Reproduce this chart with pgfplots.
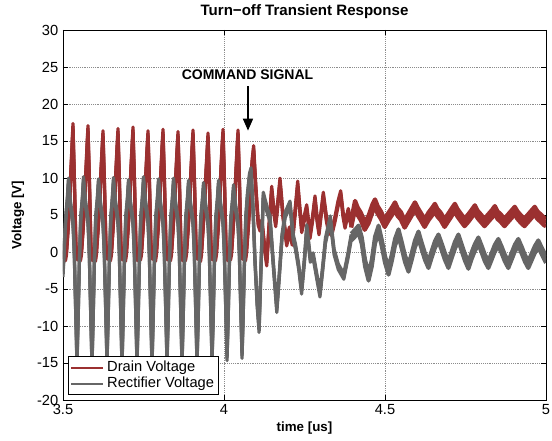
\documentclass[border=0pt]{standalone}
\usepackage{fontspec}
\setmainfont{Liberation Sans}
\usepackage{pgfplots}
\pgfplotsset{compat=1.18}
\usetikzlibrary{arrows.meta}

\definecolor{drainred}{RGB}{155,48,48}
\definecolor{rectgray}{RGB}{102,102,102}

% noisy scope traces: draw the trace three times, shifted up/down, to get a vertical noise band
\pgfplotsset{
  noiseband/.style={line width=2.4pt, line join=round,
    preaction={draw, transform canvas={yshift=#1}},
    preaction={draw, transform canvas={yshift=-#1}}},
  noiseband/.default=2.1pt,
}

\begin{document}
\begin{tikzpicture}
\begin{axis}[
  scale only axis,
  width=362.25pt, height=277.5pt,
  xmin=3.5, xmax=5, ymin=-20, ymax=30,
  xtick={3.5,4,4.5,5},
  ytick={-20,-15,...,30},
  grid=major,
  grid style={densely dotted, black!45, line width=0.4pt},
  tick align=inside,
  major tick length=3.75pt,
  tick style={black, line width=0.5pt},
  axis line style={line width=0.6pt},
  /pgf/number format/assume math mode=true,
  ticklabel style={font=\fontsize{11}{13}\selectfont},
  title={Turn−off Transient Response},
  every axis title/.style={at={(axis description cs:0.5,1.0486)}, anchor=center,
    font=\fontsize{11.3}{13}\selectfont\bfseries},
  xlabel={time [us]},
  ylabel={Voltage [V]},
  label style={font=\fontsize{10}{12}\selectfont\bfseries},
  xlabel style={at={(axis description cs:0.5,-0.0757)}, anchor=center},
  ylabel style={at={(axis description cs:-0.093,0.5)}, anchor=center},
  legend style={at={(axis description cs:0.0104,0.0135)}, anchor=south west,
    font=\fontsize{11}{13}\selectfont, draw=black, line width=0.6pt,
    inner sep=1.5pt, row sep=-1.5pt},
  legend cell align=left,
  legend image code/.code={\draw[#1] (4.5pt,0pt) -- (28.5pt,0pt);},
]

\addlegendimage{drainred, line width=1.6pt}
\addlegendentry{Drain Voltage}
\addlegendimage{rectgray, line width=1.6pt}
\addlegendentry{Rectifier Voltage}

% Drain voltage: oscillating part
\addplot[forget plot, drainred, noiseband] coordinates {
(3.5000,-0.5) (3.5030,-0.3) (3.5077,-0.8) (3.5108,0) (3.5155,3) (3.5201,6.5) (3.5248,11) (3.5279,14)
(3.5310,17.0) (3.5357,9) (3.5403,0.5) (3.5450,-0.7) (3.5496,-0.3) (3.5543,-0.8) (3.5574,0) (3.5621,3) (3.5667,6.5) (3.5714,11) (3.5745,14)
(3.5776,16.7) (3.5823,9) (3.5869,0.4) (3.5916,-0.8) (3.5962,-0.2) (3.6009,-0.9) (3.6040,0.1) (3.6087,3) (3.6133,6.3) (3.6180,10.8) (3.6211,13.5)
(3.6242,16.0) (3.6289,8.8) (3.6335,0.6) (3.6382,-0.6) (3.6428,-0.4) (3.6475,-0.8) (3.6506,0) (3.6553,3.2) (3.6599,6.6) (3.6646,11) (3.6677,13.8)
(3.6708,16.3) (3.6755,9) (3.6801,0.5) (3.6848,-0.7) (3.6894,-0.2) (3.6941,-0.9) (3.6972,0.1) (3.7019,3) (3.7065,6.5) (3.7112,11.2) (3.7143,14)
(3.7174,16.5) (3.7221,9.2) (3.7267,0.4) (3.7314,-0.8) (3.7360,-0.3) (3.7407,-0.7) (3.7438,0) (3.7485,3.1) (3.7531,6.4) (3.7578,10.9) (3.7609,13.6)
(3.7640,16.0) (3.7687,8.9) (3.7733,0.6) (3.7780,-0.6) (3.7826,-0.3) (3.7873,-0.9) (3.7904,0.1) (3.7951,3) (3.7997,6.6) (3.8044,11) (3.8075,13.9)
(3.8106,16.2) (3.8153,9) (3.8199,0.5) (3.8246,-0.7) (3.8292,-0.2) (3.8339,-0.8) (3.8370,0) (3.8417,3.1) (3.8463,6.5) (3.8510,10.8) (3.8541,13.5)
(3.8572,15.9) (3.8619,8.8) (3.8665,0.4) (3.8712,-0.8) (3.8758,-0.3) (3.8805,-0.8) (3.8836,0.1) (3.8883,3) (3.8929,6.4) (3.8976,11) (3.9007,13.8)
(3.9038,16.1) (3.9085,9) (3.9131,0.6) (3.9178,-0.6) (3.9224,-0.4) (3.9271,-0.9) (3.9302,0) (3.9349,3.2) (3.9395,6.5) (3.9442,10.7) (3.9473,13.3)
(3.9504,15.7) (3.9551,8.7) (3.9597,0.5) (3.9644,-0.7) (3.9690,-0.2) (3.9737,-0.8) (3.9768,0.1) (3.9815,3) (3.9861,6.7) (3.9908,11.2) (3.9939,14)
(3.9970,16.2) (4.0017,9) (4.0063,0.4) (4.0110,-0.8) (4.0156,-0.3) (4.0203,-0.7) (4.0234,0) (4.0281,3.1) (4.0327,6.5) (4.0374,11) (4.0405,13.8)
(4.0436,16.1) (4.0483,8.9) (4.0529,0.6) (4.0576,-0.6) (4.0622,-0.2) (4.0669,-0.8) (4.0700,0.2) (4.0747,3) (4.0793,6) (4.0840,9.5) (4.0871,12)
(4.0920,14.0) (4.0990,8.5) (4.1060,4.0) (4.1120,3.2) (4.1180,4.0) (4.1250,1.0) (4.1326,-1.5) (4.1400,3.5)
(4.1481,8.5) (4.1550,5.5) (4.1605,3.8) (4.1670,6.5) (4.1739,9.6) (4.1830,5.0) (4.1947,1.2) (4.2030,3.0)
(4.2120,1.3) (4.2200,5.0) (4.2289,9.2) (4.2350,6.0) (4.2413,3.0) (4.2490,4.5) (4.2568,6.0) (4.2671,2.2)
(4.2750,4.5) (4.2826,7.2) (4.2890,4.5) (4.2950,2.7) (4.3010,5.0) (4.3084,7.7) (4.3180,4.5) (4.3250,3.0)
(4.3345,2.6) (4.3450,4.5) (4.3540,6.5) (4.3624,7.9) (4.3700,5.0) (4.3758,3.6) (4.3860,5.5) (4.3950,3.8)
};
% Drain voltage: settled part (noisier band)
\addplot[forget plot, drainred, noiseband=2.8pt, line width=3.2pt] coordinates {
(4.3950,3.8)
(4.4070,6.4) (4.4150,5.5) (4.4250,4.8) (4.4370,3.5) (4.4490,4.4) (4.4610,5.9) (4.4690,6.6) (4.4770,5.7)
(4.4870,5.0) (4.4990,3.9) (4.5110,4.8) (4.5230,5.6) (4.5310,6.2) (4.5390,5.4) (4.5490,4.9) (4.5610,3.8)
(4.5730,4.7) (4.5850,5.6) (4.5930,6.2) (4.6010,5.5) (4.6110,4.8) (4.6230,3.9) (4.6350,4.8) (4.6470,5.5)
(4.6550,6.0) (4.6630,5.3) (4.6730,4.8) (4.6850,3.9) (4.6970,4.7) (4.7090,5.5) (4.7170,6.0) (4.7250,5.3)
(4.7350,4.7) (4.7470,4.0) (4.7590,4.6) (4.7710,5.3) (4.7790,5.8) (4.7870,5.1) (4.7970,4.6) (4.8090,4.0)
(4.8210,4.6) (4.8330,5.2) (4.8410,5.7) (4.8490,5.0) (4.8590,4.6) (4.8710,4.0) (4.8830,4.6) (4.8950,5.2)
(4.9030,5.6) (4.9110,5.0) (4.9210,4.5) (4.9330,4.0) (4.9450,4.6) (4.9570,5.2) (4.9650,5.6) (4.9730,5.0)
(4.9830,4.6) (4.9950,4.1) (5.0000,4.0)
};

% Rectifier voltage: oscillating part
\addplot[forget plot, rectgray, noiseband] coordinates {
(3.5000,-3) (3.5044,1) (3.5084,4.5) (3.5134,7)
(3.5170,9.6) (3.5217,7.0) (3.5263,5.5) (3.5310,4.0) (3.5350,0) (3.5395,-8) (3.5434,-15) (3.5470,-9) (3.5510,-1) (3.5550,4.5) (3.5600,7)
(3.5636,9.8) (3.5683,7.2) (3.5729,5.6) (3.5776,4.2) (3.5816,0) (3.5861,-8.2) (3.5900,-15.2) (3.5936,-9) (3.5976,-1) (3.6016,4.6) (3.6066,7)
(3.6102,9.5) (3.6149,7.0) (3.6195,5.4) (3.6242,4.0) (3.6282,0) (3.6327,-7.8) (3.6366,-14.8) (3.6402,-9) (3.6442,-1) (3.6482,4.4) (3.6532,7.1)
(3.6568,9.7) (3.6615,7.1) (3.6661,5.6) (3.6708,4.1) (3.6748,0.2) (3.6793,-8) (3.6832,-15.3) (3.6868,-9) (3.6908,-1) (3.6948,4.5) (3.6998,6.9)
(3.7034,9.4) (3.7081,7.0) (3.7127,5.5) (3.7174,4.0) (3.7214,0) (3.7259,-8) (3.7298,-15) (3.7334,-9) (3.7374,-1) (3.7414,4.5) (3.7464,7.1)
(3.7500,9.8) (3.7547,7.2) (3.7593,5.6) (3.7640,4.2) (3.7680,0) (3.7725,-8.2) (3.7764,-15.2) (3.7800,-9) (3.7840,-1) (3.7880,4.5) (3.7930,7)
(3.7966,9.5) (3.8013,7.0) (3.8059,5.4) (3.8106,4.0) (3.8146,0) (3.8191,-7.8) (3.8230,-14.8) (3.8266,-9) (3.8306,-1) (3.8346,4.4) (3.8396,7)
(3.8432,9.6) (3.8479,7.1) (3.8525,5.5) (3.8572,4.1) (3.8612,0.1) (3.8657,-8) (3.8696,-15.1) (3.8732,-9) (3.8772,-1) (3.8812,4.5) (3.8862,6.9)
(3.8898,9.3) (3.8945,6.9) (3.8991,5.4) (3.9038,4.0) (3.9078,0) (3.9123,-8) (3.9162,-15) (3.9198,-9) (3.9238,-1) (3.9278,4.4) (3.9328,6.8)
(3.9364,9.0) (3.9411,6.8) (3.9457,5.3) (3.9504,3.9) (3.9544,0) (3.9589,-7.8) (3.9628,-14.6) (3.9664,-9) (3.9704,-1) (3.9744,4.4) (3.9794,6.9)
(3.9830,9.3) (3.9877,6.9) (3.9923,5.4) (3.9970,4.0) (4.0010,0) (4.0055,-7.6) (4.0094,-14.3) (4.0130,-8.8) (4.0170,-1) (4.0210,4.3) (4.0260,6.6)
(4.0296,8.7) (4.0343,6.6) (4.0389,5.2) (4.0436,3.8) (4.0476,0) (4.0521,-7.5) (4.0560,-14.0) (4.0596,-8.5) (4.0636,-1) (4.0676,4.5) (4.0726,7.5)
(4.0790,10.2) (4.0840,11.0) (4.0900,6.0) (4.0960,-1) (4.1030,-7) (4.1090,-10.5) (4.1150,-2) (4.1220,7.7)
(4.1350,5.5) (4.1430,4.5) (4.1520,-1) (4.1640,-7.8) (4.1720,-3) (4.1800,2) (4.1900,5) (4.2050,6.5)
(4.2150,2) (4.2220,0.7) (4.2320,-2) (4.2410,-5.3) (4.2500,-1) (4.2570,3.3) (4.2680,-1) (4.2770,-0.5)
(4.2870,-3) (4.2980,-5.7) (4.3070,-2) (4.3150,1.5) (4.3300,4.5) (4.3420,0) (4.3550,-2.0) (4.3720,-3.3)
(4.3850,-0.5) (4.3950,2.0)
};
% Rectifier voltage: settled part (noisier band)
\addplot[forget plot, rectgray, noiseband=2.6pt, line width=3.0pt] coordinates {
(4.3950,2.0) (4.4060,2.5) (4.4180,3.1) (4.4280,1.5) (4.4380,-1.5) (4.4490,-3.4)
(4.4590,-1.5) (4.4690,1.6) (4.4800,3.1) (4.4900,1.2) (4.5000,-1.0) (4.5110,-2.6)
(4.5210,-0.8) (4.5310,1.3) (4.5420,2.6) (4.5520,0.9) (4.5620,-0.9) (4.5730,-2.2)
(4.5830,-0.6) (4.5930,1.1) (4.6040,2.3) (4.6140,0.8) (4.6240,-0.6) (4.6350,-1.7)
(4.6450,-0.3) (4.6550,1.0) (4.6660,1.9) (4.6760,0.7) (4.6860,-0.6) (4.6970,-1.7)
(4.7070,-0.4) (4.7170,0.9) (4.7280,1.9) (4.7380,0.6) (4.7480,-0.7) (4.7590,-1.8)
(4.7690,-0.5) (4.7790,0.6) (4.7900,1.5) (4.8000,0.4) (4.8100,-0.8) (4.8210,-1.7)
(4.8310,-0.6) (4.8410,0.5) (4.8520,1.3) (4.8620,0.3) (4.8720,-0.8) (4.8830,-1.7)
(4.8930,-0.6) (4.9030,0.5) (4.9140,1.3) (4.9240,0.3) (4.9340,-0.8) (4.9450,-1.7)
(4.9550,-0.7) (4.9650,0.3) (4.9760,1.1) (4.9860,0.2) (5.0000,-1.0)
};

\node[font=\fontsize{10.5}{12}\selectfont\bfseries] at (axis cs:4.073,23.9) {COMMAND SIGNAL};
\draw[-{Triangle[length=9pt,width=7.5pt]}, line width=1.3pt] (axis cs:4.0745,22.4) -- (axis cs:4.0745,16.4);
\end{axis}
\pgfresetboundingbox
\path ([xshift=-47.25pt,yshift=-30.75pt]current axis.south west) rectangle ([xshift=4.5pt,yshift=22.5pt]current axis.north east);
\end{tikzpicture}
\end{document}
